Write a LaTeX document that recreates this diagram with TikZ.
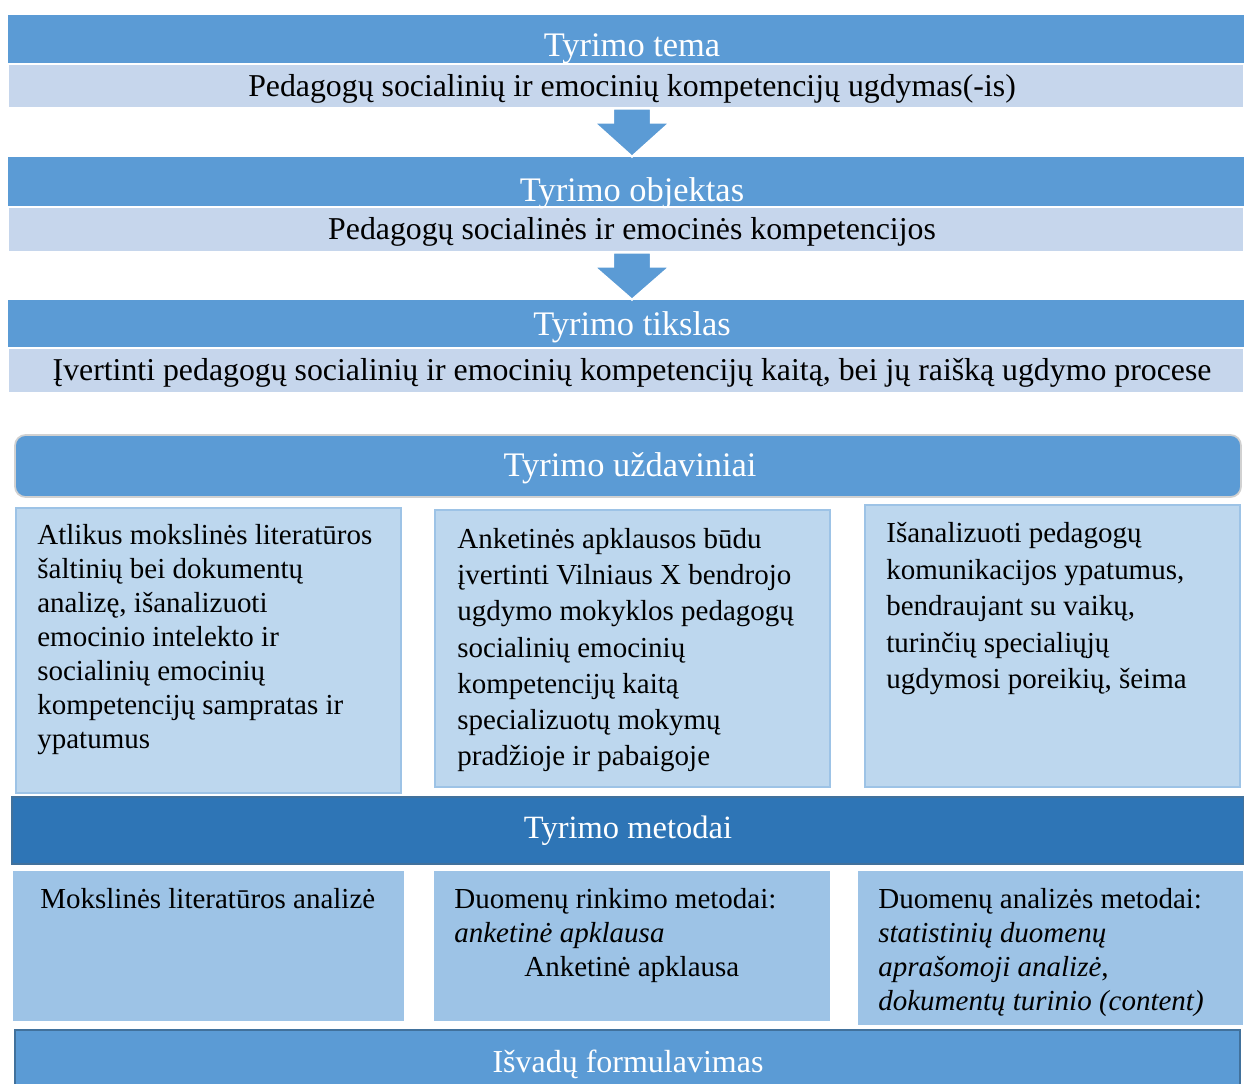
\documentclass[tikz,border=0pt]{standalone}
\usepackage{fontspec}
\setmainfont{Liberation Serif}
\usetikzlibrary{positioning, calc, fit}
\definecolor{tyblue}{HTML}{5B9BD5}
\definecolor{tystrip}{HTML}{C6D6EC}
\definecolor{tybox}{HTML}{BDD7EE}
\definecolor{tyboxline}{HTML}{9DC3E6}
\definecolor{tydeep}{HTML}{2E75B6}
\definecolor{tydeepline}{HTML}{41719C}
\definecolor{tymeth}{HTML}{9DC3E6}
\newcommand{\tyarrow}[2]{%
  \coordinate (ta) at (632,0 |- #1.south);
  \coordinate (tb) at (632,0 |- #2.north);
  \filldraw[draw=white, line width=1.2pt, fill=tyblue, line join=miter]
    ($(ta)+(-19,0)$) -- ($(ta)+(19,0)$) -- ($(ta)+(19,14)$) -- ($(ta)+(38,14)$)
    -- (tb) -- ($(ta)+(-38,14)$) -- ($(ta)+(-19,14)$) -- cycle;}

\begin{document}
\begin{tikzpicture}[
    x=0.02cm, y=-0.02cm,
    % ---- shared styles ---------------------------------------------------
    head/.style={fill=tyblue, inner sep=0pt},
    strip/.style={fill=tystrip, draw=white, line width=0.6pt, inner sep=0pt},
    task/.style={fill=tybox, draw=tyboxline, line width=0.8pt, inner sep=0pt},
    deep/.style={fill=tydeep, draw=tydeepline, line width=0.8pt, inner sep=0pt},
    meth/.style={fill=tymeth, draw=white, line width=0.6pt, inner sep=0pt},
    ttl/.style={text=white, font=\fontsize{18.5}{22}\selectfont, inner sep=0pt},
    bigttl/.style={ttl, font=\fontsize{19.6}{23}\selectfont},
    txt/.style={font=\fontsize{16.5}{19.4}\selectfont, inner sep=0pt},
    striptxt/.style={txt, font=\fontsize{18.1}{21}\selectfont},
    boxtxt/.style={txt, align=left, anchor=north west},
  ]
\useasboundingbox[fill=white] (0,0) rectangle (1244,1083);

% =========================================================================
% TOP -- theme, object, aim
% =========================================================================
\node[head,  fit={(8,15) (1244,64)}]   (temaH) {};
\node[strip, fit={(8,64) (1244,108)}]  (temaL) {};
\node[bigttl] (temaT) at (632,49) {Tyrimo tema};
\node[striptxt] (temaX) at (632,89) {Pedagogų socialinių ir emocinių kompetencijų ugdymas(-is)};

\node[head,  fit={(8,157) (1244,207)}] (objH) {};
\node[strip, fit={(8,207) (1244,252)}] (objL) {};
\node[bigttl] (objT) at (632,193) {Tyrimo objektas};
\node[striptxt] (objX) at (632,232) {Pedagogų socialinės ir emocinės kompetencijos};

\node[head,  fit={(8,300) (1244,348)}] (tiksH) {};
\node[strip, fit={(8,348) (1244,393)}] (tiksL) {};
\node[bigttl] (tiksT) at (632,327) {Tyrimo tikslas};
\node[striptxt] (tiksX) at (632,373) {Įvertinti pedagogų socialinių ir emocinių kompetencijų kaitą, bei jų raišką ugdymo procese};

\tyarrow{temaL}{objH}
\tyarrow{objL}{tiksH}

% =========================================================================
% MIDDLE -- tasks
% =========================================================================
\node[head, draw=black!18, line width=1pt, rounded corners=6pt,
      fit={(15,435) (1241,497)}] (uzdH) {};
\node[bigttl] (uzdT) at (630,468) {Tyrimo uždaviniai};

\node[task, fit={(16,508) (401,793)}]  (uzd1) {};
\node[task, fit={(435,510) (830,787)}] (uzd2) {};
\node[task, fit={(865,505) (1240,787)}] (uzd3) {};

\node[boxtxt] (uzd1x) at (37,524) {Atlikus mokslinės literatūros\\šaltinių bei dokumentų\\analizę, išanalizuoti\\emocinio intelekto ir\\socialinių emocinių\\kompetencijų sampratas ir\\ypatumus};
\node[boxtxt, font=\fontsize{16.5}{20.6}\selectfont] (uzd2x) at (457,528)
  {Anketinės apklausos būdu\\įvertinti Vilniaus X bendrojo\\ugdymo mokyklos pedagogų\\socialinių emocinių\\kompetencijų kaitą\\specializuotų mokymų\\pradžioje ir pabaigoje};
\node[boxtxt, font=\fontsize{16.5}{20.8}\selectfont] (uzd3x) at (886,522)
  {Išanalizuoti pedagogų\\komunikacijos ypatumus,\\bendraujant su vaikų,\\turinčių specialiųjų\\ugdymosi poreikių, šeima};

% =========================================================================
% LOWER -- methods and conclusions
% =========================================================================
\node[deep, fit={(12,797) (1244,864)}] (metH) {};
\node[ttl] (metT) at (628,831) {Tyrimo metodai};

\node[meth, fit={(12,870) (405,1022)}]   (met1) {};
\node[meth, fit={(433,870) (831,1022)}]  (met2) {};
\node[meth, fit={(857,870) (1244,1026)}] (met3) {};

\node[boxtxt] (met1x) at (40,888) {Mokslinės literatūros analizė};
\node[boxtxt] (met2x) at (454,888)
  {Duomenų rinkimo metodai:\\\textit{anketinė apklausa}\\\hspace*{1.4cm}Anketinė apklausa};
\node[boxtxt] (met3x) at (878,888)
  {Duomenų analizės metodai:\\\textit{statistinių duomenų}\\\textit{aprašomoji analizė},\\\textit{dokumentų turinio (content)}};

\node[head, draw=tydeepline, line width=0.8pt, fit={(15,1030) (1240,1095)}] (isv) {};
\node[ttl, font=\fontsize{18.2}{22}\selectfont] (isvT) at (628,1064) {Išvadų formulavimas};

\end{tikzpicture}
\end{document}
